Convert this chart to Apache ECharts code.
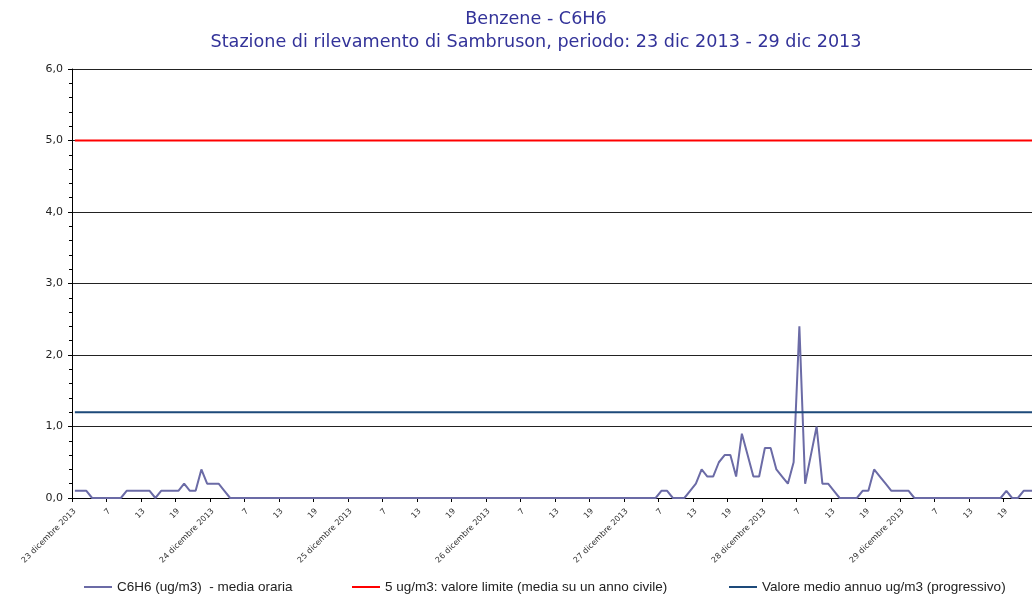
<!DOCTYPE html>
<html lang="it">
<head>
<meta charset="UTF-8">
<title>Benzene - C6H6</title>
<script src="https://cdn.jsdelivr.net/npm/echarts@6/dist/echarts.min.js"></script>
<style>
    html, body { margin: 0; padding: 0; background: #fff; overflow: hidden; }
    /* il grafico originale è tagliato a destra: il contenitore è più largo della finestra */
    #container { width: 1038px; height: 594px; }
</style>
</head>
<body>
<div id="container"></div>
<script type="text/javascript">
    // giorni e ore del periodo
    var days = [23, 24, 25, 26, 27, 28, 29];
    var hours = [1,2,3,4,5,6,7,8,9,10,11,12,13,14,15,16,17,18,19,20,21,22,23,24];
    // media oraria C6H6, una riga per giorno (24 ore, a gruppi di 6)
    var c6h6 = [
        0.1,0.1,0.1,0,0,0,      0,0,0,0.1,0.1,0.1,      0.1,0.1,0,0.1,0.1,0.1,      0.1,0.2,0.1,0.1,0.4,0.2,
        0.2,0.2,0.1,0,0,0,      0,0,0,0,0,0,            0,0,0,0,0,0,                0,0,0,0,0,0,
        0,0,0,0,0,0,            0,0,0,0,0,0,            0,0,0,0,0,0,                0,0,0,0,0,0,
        0,0,0,0,0,0,            0,0,0,0,0,0,            0,0,0,0,0,0,                0,0,0,0,0,0,
        0,0,0,0,0,0,            0.1,0.1,0,0,0,0.1,      0.2,0.4,0.3,0.3,0.5,0.6,    0.6,0.3,0.9,0.6,0.3,0.3,
        0.7,0.7,0.4,0.3,0.2,0.5, 2.4,0.2,0.6,1.0,0.2,0.2, 0.1,0,0,0,0,0.1,          0.1,0.4,0.3,0.2,0.1,0.1,
        0.1,0.1,0,0,0,0,        0,0,0,0,0,0,            0,0,0,0,0,0,                0.1,0,0,0.1,0.1,0.1
    ];
    var limitValue = 5;     // valore limite
    var meanValue = 1.2;    // valore medio annuo progressivo
    var yTicks = [0, 1, 2, 3, 4, 5, 6];
    var seriesNames = [
        'C6H6 (ug/m3)  - media oraria',
        '5 ug/m3: valore limite (media su un anno civile)',
        'Valore medio annuo ug/m3 (progressivo)'
    ];
    var colors = ['#6b6ba6', '#ff0000', '#1d4a7a'];

    var categories = [];
    days.forEach(function (d) {
        hours.forEach(function (h) {
            categories.push(h === 1 ? d + ' dicembre 2013' : String(h));
        });
    });

    var myChart = echarts.init(document.getElementById('container'), null, { renderer: 'canvas' });

    // una legenda per voce, per posizionarle come nell'originale
    var legendLeft = [84, 352, 729];
    var legends = seriesNames.map(function (name, i) {
        return {
            left: legendLeft[i],
            top: 580,
            padding: 0,
            icon: 'rect',
            itemWidth: 28,
            itemHeight: 2,
            textStyle: { fontFamily: 'Liberation Sans', fontSize: 13.5, color: '#222' },
            data: [name]
        };
    });

    var option = {
        animation: false,
        color: colors,
        title: {
            text: 'Benzene - C6H6',
            subtext: 'Stazione di rilevamento di Sambruson, periodo: 23 dic 2013 - 29 dic 2013',
            left: 536,
            top: 10,
            padding: 0,
            textAlign: 'center',
            itemGap: 5,
            textStyle: { fontFamily: 'DejaVu Sans', fontSize: 17.6, fontWeight: 'normal', color: '#333399' },
            subtextStyle: { fontFamily: 'DejaVu Sans', fontSize: 17.6, color: '#333399' }
        },
        legend: legends,
        grid: {
            left: 72,
            top: 69,
            right: 0,
            bottom: 96
        },
        xAxis: {
            type: 'category',
            boundaryGap: true,
            data: categories,
            axisLine: { show: true, lineStyle: { color: '#000', width: 1 } },
            axisTick: { show: true, interval: 5, length: 4, lineStyle: { color: '#000' } },
            axisLabel: {
                interval: 5,
                rotate: 45,
                margin: 12,
                fontFamily: 'DejaVu Sans',
                fontSize: 8,
                color: '#333'
            },
            splitLine: { show: false }
        },
        yAxis: {
            type: 'value',
            min: yTicks[0],
            max: yTicks[yTicks.length - 1],
            interval: 1,
            axisLine: { show: true, lineStyle: { color: '#000', width: 1 } },
            axisTick: { show: true, length: 4, lineStyle: { color: '#000' } },
            minorTick: { show: true, splitNumber: 5, length: 3, lineStyle: { color: '#000' } },
            axisLabel: {
                margin: 9,
                fontFamily: 'DejaVu Sans',
                fontSize: 11,
                color: '#222',
                formatter: function (v) { return v.toFixed(1).replace('.', ','); }
            },
            splitLine: { show: true, lineStyle: { color: '#222', width: 1 } }
        },
        series: [
            {
                name: seriesNames[0],
                type: 'line',
                data: c6h6,
                symbol: 'none',
                lineStyle: { color: colors[0], width: 2 }
            },
            {
                name: seriesNames[1],
                type: 'line',
                data: categories.map(function () { return limitValue; }),
                symbol: 'none',
                lineStyle: { color: colors[1], width: 2 }
            },
            {
                name: seriesNames[2],
                type: 'line',
                data: categories.map(function () { return meanValue; }),
                symbol: 'none',
                lineStyle: { color: colors[2], width: 2 }
            }
        ]
    };
    myChart.setOption(option);
</script>
</body>
</html>
